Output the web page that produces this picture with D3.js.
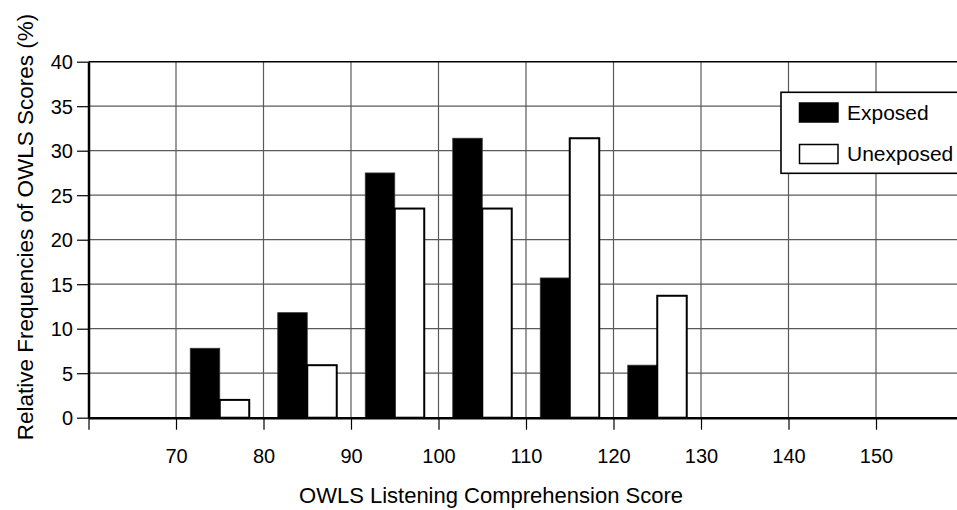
<!DOCTYPE html>
<html>
<head>
<meta charset="utf-8">
<script src="https://cdn.jsdelivr.net/npm/d3@7"></script>
<style>
  html, body { margin: 0; padding: 0; background: #fff; overflow: hidden; }
  svg { display: block; font-family: "Liberation Sans", Arial, Helvetica, sans-serif; }
</style>
</head>
<body>
<svg id="chart" width="957" height="510"></svg>
<script>
// ---- data ----
const binStarts = [70, 80, 90, 100, 110, 120];
const exposed   = [7.8, 11.8, 27.5, 31.4, 15.7, 5.9];
const unexposed = [2.0, 5.9, 23.5, 23.5, 31.4, 13.7];
const seriesNames = ["Exposed", "Unexposed"];
const xTickValues = [60, 70, 80, 90, 100, 110, 120, 130, 140, 150, 160];
const xTickLabels = ["", "70", "80", "90", "100", "110", "120", "130", "140", "150", ""];
const yTickValues = [0, 5, 10, 15, 20, 25, 30, 35, 40];
const xTitle = "OWLS Listening Comprehension Score";
const yTitle = "Relative Frequencies of OWLS Scores (%)";

// ---- layout ----
const svg = d3.select("#chart");
const pLeft = 88.5, pRight = 963.5, pTop = 61.7, pBottom = 417.7;
const x = d3.scaleLinear().domain([60, 160]).range([pLeft, pRight]);
const y = d3.scaleLinear().domain([0, 40]).range([pBottom, pTop]);
const halfBar = 3.37;

// gridlines
const grid = svg.append("g");
grid.selectAll("line.h").data(yTickValues.filter(v => v > 0 && v < 40)).join("line")
  .attr("x1", pLeft).attr("x2", pRight)
  .attr("y1", d => y(d)).attr("y2", d => y(d))
  .attr("stroke", "#5a5a5a").attr("stroke-width", 1.2);
grid.selectAll("line.v").data(xTickValues.filter(v => v > 60)).join("line")
  .attr("x1", d => x(d)).attr("x2", d => x(d))
  .attr("y1", pTop).attr("y2", pBottom)
  .attr("stroke", "#5a5a5a").attr("stroke-width", 1.2);

// top border
svg.append("line").attr("x1", pLeft).attr("x2", pRight).attr("y1", pTop).attr("y2", pTop)
  .attr("stroke", "#000").attr("stroke-width", 1.6);

// bars
const rows = binStarts.map((b, i) => ({ c: b + 5, e: exposed[i], u: unexposed[i] }));
svg.append("g").selectAll("rect").data(rows).join("rect")
  .attr("x", d => x(d.c - halfBar))
  .attr("width", d => x(d.c) - x(d.c - halfBar))
  .attr("y", d => y(d.e))
  .attr("height", d => y(0) - y(d.e))
  .attr("fill", "#000")
  .attr("stroke", "#333").attr("stroke-width", 0.8);
svg.append("g").selectAll("rect").data(rows).join("rect")
  .attr("x", d => x(d.c))
  .attr("width", d => x(d.c + halfBar) - x(d.c))
  .attr("y", d => y(d.u))
  .attr("height", d => y(0) - y(d.u))
  .attr("fill", "#fff")
  .attr("stroke", "#000").attr("stroke-width", 2);

// axes
const xAxis = d3.axisBottom(x).tickValues(xTickValues)
  .tickFormat((d, i) => xTickLabels[i]).tickSize(12).tickSizeOuter(0);
const gx = svg.append("g").attr("transform", `translate(0,${pBottom})`).call(xAxis);
gx.select(".domain").attr("stroke", "#000").attr("stroke-width", 2.5);
gx.selectAll(".tick line").attr("stroke", "#000").attr("stroke-width", 1.2);
gx.selectAll(".tick text").attr("font-size", 20).attr("fill", "#000")
  .attr("font-family", "Liberation Sans, Arial, sans-serif")
  .attr("y", 0).attr("dy", 0).attr("transform", "translate(0,45.5)");

const yAxis = d3.axisLeft(y).tickValues(yTickValues).tickSize(11.5).tickSizeOuter(0).tickPadding(4);
const gy = svg.append("g").attr("transform", `translate(${pLeft},0)`).call(yAxis);
gy.select(".domain").attr("stroke", "#000").attr("stroke-width", 2.5);
gy.selectAll(".tick line").attr("stroke", "#000").attr("stroke-width", 1.2);
gy.selectAll(".tick text").attr("font-size", 20).attr("fill", "#000")
  .attr("font-family", "Liberation Sans, Arial, sans-serif").attr("dy", "0.36em");

// titles
svg.append("text").attr("x", 491).attr("y", 502.5).attr("text-anchor", "middle")
  .attr("font-size", 22).attr("fill", "#000").text(xTitle);
svg.append("text").attr("transform", "translate(33,227) rotate(-90)")
  .attr("text-anchor", "middle").attr("font-size", 22.5).attr("fill", "#000").text(yTitle);

// legend
const lg = svg.append("g");
lg.append("rect").attr("x", 781).attr("y", 92.3).attr("width", 200).attr("height", 81)
  .attr("fill", "#fff").attr("stroke", "#000").attr("stroke-width", 1.6);
const items = [
  { name: seriesNames[0], fill: "#000", yy: 103 },
  { name: seriesNames[1], fill: "#fff", yy: 144.5 }
];
lg.selectAll("rect.sw").data(items).join("rect")
  .attr("x", 799.5).attr("y", d => d.yy).attr("width", 38.5).attr("height", 19)
  .attr("fill", d => d.fill).attr("stroke", "#000").attr("stroke-width", 1.5);
lg.selectAll("text").data(items).join("text")
  .attr("x", 847).attr("y", d => d.yy + 16.5)
  .attr("font-size", 21).attr("fill", "#000").text(d => d.name);
</script>
</body>
</html>
